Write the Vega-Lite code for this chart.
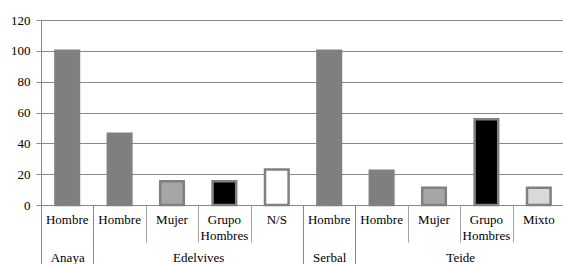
{
  "$schema": "https://vega.github.io/schema/vega-lite/v6.json",
  "autosize": "none",
  "width": 524,
  "height": 185,
  "padding": {"left": 41, "top": 20, "right": 0, "bottom": 59},
  "config": {
    "view": {"stroke": null},
    "font": "'Liberation Serif', 'Times New Roman', serif",
    "axis": {"labelFont": "'Liberation Serif', 'Times New Roman', serif", "labelFontSize": 13, "labelColor": "#000000", "title": null}
  },
  "datasets": {
    "bars": [
      {"editorial": "Anaya", "sexo": "Hombre", "pct": 100},
      {"editorial": "Edelvives", "sexo": "Hombre", "pct": 46.15},
      {"editorial": "Edelvives", "sexo": "Mujer", "pct": 15.38},
      {"editorial": "Edelvives", "sexo": "Grupo Hombres", "pct": 15.38},
      {"editorial": "Edelvives", "sexo": "N/S", "pct": 23.08},
      {"editorial": "Serbal", "sexo": "Hombre", "pct": 100},
      {"editorial": "Teide", "sexo": "Hombre", "pct": 22.22},
      {"editorial": "Teide", "sexo": "Mujer", "pct": 11.11},
      {"editorial": "Teide", "sexo": "Grupo Hombres", "pct": 55.56},
      {"editorial": "Teide", "sexo": "Mixto", "pct": 11.11}
    ],
    "groups": [
      {"editorial": "Anaya", "inicio": 0, "centro": 0.5},
      {"editorial": "Edelvives", "inicio": 1, "centro": 3},
      {"editorial": "Serbal", "inicio": 5, "centro": 5.5},
      {"editorial": "Teide", "inicio": 6, "centro": 8}
    ]
  },
  "layer": [
    {
      "data": {"name": "bars"},
      "transform": [{"calculate": "datum.editorial + '|' + datum.sexo", "as": "clave"}],
      "mark": {"type": "bar", "stroke": "#808080", "strokeWidth": 2.5},
      "encoding": {
        "x": {
          "field": "clave", "type": "nominal", "sort": null,
          "scale": {"paddingInner": 0.55, "paddingOuter": 0.275},
          "axis": {
            "orient": "bottom",
            "labelAngle": 0,
            "labelExpr": "isString(datum.value) ? split(split(datum.value, '|')[1], ' ') : ''",
            "labelLineHeight": 16,
            "labelBaseline": "top",
            "ticks": false,
            "tickSize": 0,
            "labelPadding": 8,
            "domainColor": "#898989",
            "grid": false
          }
        },
        "y": {
          "field": "pct", "type": "quantitative",
          "scale": {"domain": [0, 120], "nice": false},
          "axis": {
            "values": [0, 20, 40, 60, 80, 100, 120],
            "tickSize": 5,
            "tickColor": "#898989",
            "domainColor": "#898989",
            "gridColor": "#898989",
            "gridOpacity": 1,
            "labelPadding": 6
          }
        },
        "color": {
          "field": "sexo", "type": "nominal", "legend": null,
          "scale": {
            "domain": ["Hombre", "Mujer", "Grupo Hombres", "N/S", "Mixto"],
            "range": ["#7f7f7f", "#a6a6a6", "#000000", "#ffffff", "#d9d9d9"]
          }
        }
      }
    },
    {
      "data": {"name": "groups"},
      "mark": {"type": "rule", "opacity": 0},
      "encoding": {
        "x": {
          "field": "inicio", "type": "quantitative",
          "scale": {"domain": [0, 10], "nice": false, "zero": false},
          "axis": {
            "orient": "bottom",
            "values": [0, 1, 2, 3, 4, 5, 6, 7, 8, 9, 10],
            "labels": false,
            "domain": false,
            "grid": false,
            "tickSize": {"condition": {"test": "indexof([0, 1, 5, 6, 10], datum.value) >= 0", "value": 65}, "value": 37},
            "tickColor": {"condition": {"test": "indexof([0, 1, 5, 6, 10], datum.value) >= 0", "value": "#898989"}, "value": "#a3a3a3"}
          }
        }
      }
    },
    {
      "data": {"name": "groups"},
      "mark": {"type": "rule", "opacity": 0},
      "encoding": {
        "x": {
          "field": "centro", "type": "quantitative",
          "scale": {"domain": [0, 10], "nice": false, "zero": false},
          "axis": {
            "orient": "bottom",
            "values": [0.5, 3, 5.5, 8],
            "labelExpr": "datum.value == 0.5 ? 'Anaya' : datum.value == 3 ? 'Edelvives' : datum.value == 5.5 ? 'Serbal' : 'Teide'",
            "labelBaseline": "top",
            "labelFlush": false,
            "labelOverlap": false,
            "ticks": false,
            "tickSize": 0,
            "domain": false,
            "grid": false,
            "labelPadding": 46
          }
        }
      }
    }
  ],
  "resolve": {"scale": {"x": "independent"}, "axis": {"x": "independent"}}
}
